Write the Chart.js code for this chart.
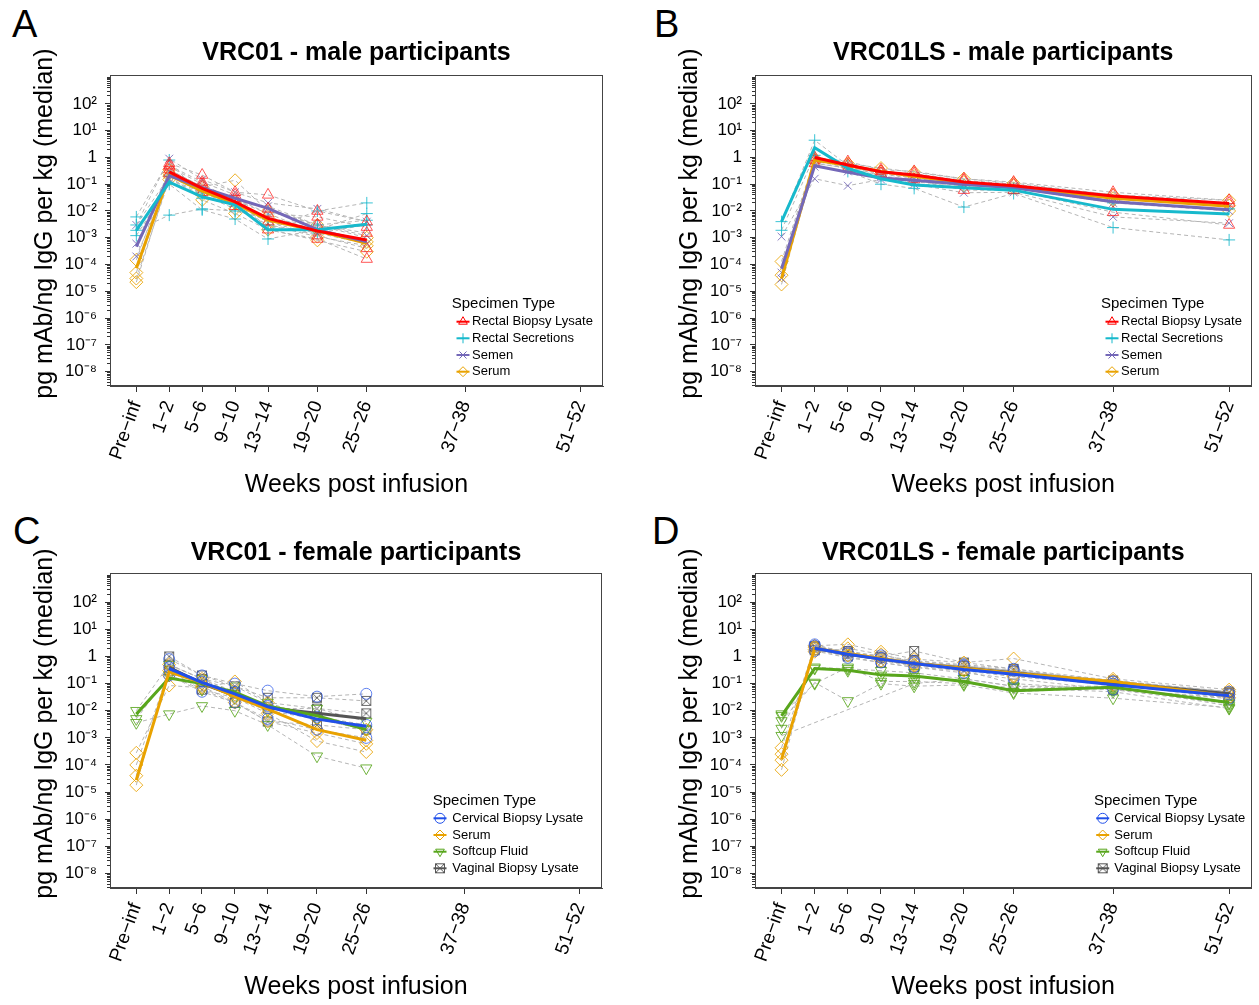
<!DOCTYPE html>
<html>
<head>
<meta charset="utf-8">
<script src="https://cdn.jsdelivr.net/npm/chart.js@4.4.1/dist/chart.umd.min.js"></script>
<style>
  body { margin: 0; background: #fff; width: 1259px; height: 1005px; position: relative; overflow: hidden;
         font-family: "Liberation Sans", Arial, sans-serif; }
  canvas { position: absolute; }
  .tag { position: absolute; font-size: 38px; line-height: 38px; color: #000; }
</style>
</head>
<body>
<div class="tag" style="left:12px;top:5px">A</div>
<div class="tag" style="left:654px;top:5px">B</div>
<div class="tag" style="left:13px;top:512px">C</div>
<div class="tag" style="left:652px;top:512px">D</div>
<canvas id="cA" width="630" height="500" style="left:0;top:0"></canvas>
<canvas id="cB" width="614" height="500" style="left:645px;top:0"></canvas>
<canvas id="cC" width="630" height="505" style="left:0;top:500px"></canvas>
<canvas id="cD" width="614" height="505" style="left:645px;top:500px"></canvas>
<script>
// x positions (weeks) and their labels
const weekPos = [-3, 1, 5, 9, 13, 19, 25, 37, 51];
const weekLabels = ['Pre\u2212inf', '1\u22122', '5\u22126', '9\u221210', '13\u221214', '19\u221220', '25\u221226', '37\u221238', '51\u221252'];
const decadeTicks = [1e-8, 1e-7, 1e-6, 1e-5, 1e-4, 1e-3, 1e-2, 1e-1, 1, 1e1, 1e2];
const minorSteps = [2, 3, 4, 5, 6, 7, 8, 9];

// Panel A - VRC01 male (medians, then individual participants)
const aRectalBiopsyMed = [null, 0.29, 0.07, 0.022, 0.0053, 0.0018, 0.00083];
const aRectalSecMed    = [0.0019, 0.12, 0.034, 0.017, 0.002, 0.002, 0.0032];
const aSemenMed        = [0.00047, 0.21, 0.074, 0.03, 0.0125, 0.002, 0.0007];
const aSerumMed        = [0.000072, 0.22, 0.055, 0.019, 0.0046, 0.0018, 0.00062];
const aRectalBiopsyInd = [
  [null, 0.6, 0.22, 0.05, 0.04, 0.01, 0.004],
  [null, 0.35, 0.08, 0.03, 0.012, 0.003, 0.0015],
  [null, 0.25, 0.05, 0.015, 0.004, 0.0012, 0.0004],
  [null, 0.5, 0.12, 0.04, 0.002, 0.0009, 0.00016],
  [null, 0.45, 0.1, 0.025, 0.008, 0.006, 0.0025]
];
const aRectalSecInd = [
  [0.006, 0.8, 0.03, 0.02, 0.002, 0.01, 0.02],
  [0.0012, 0.1, 0.011, 0.005, 0.0009, 0.002, 0.008],
  [0.003, 0.2, 0.05, 0.015, 0.003, 0.0015, 0.003],
  [0.0019, 0.007, 0.012, 0.01, 0.005, 0.003, 0.0045]
];
const aSemenInd = [
  [0.003, 0.9, 0.15, 0.05, 0.02, 0.012, 0.004],
  [0.0002, 0.15, 0.05, 0.03, 0.008, 0.0015, 0.0006],
  [0.0006, 0.3, 0.08, 0.02, 0.015, 0.003, 0.0012]
];
const aSerumInd = [
  [0.00015, 0.35, 0.08, 0.14, 0.01, 0.003, 0.001],
  [0.000022, 0.2, 0.026, 0.008, 0.002, 0.0008, 0.0003],
  [0.00005, 0.25, 0.06, 0.02, 0.006, 0.002, 0.0007],
  [0.00003, 0.15, 0.04, 0.012, 0.003, 0.0011, 0.0005]
];

// Panel B - VRC01LS male
const bRectalBiopsyMed = [null, 1.0, 0.52, 0.29, 0.22, 0.12, 0.088, 0.036, 0.019];
const bRectalSecMed    = [0.004, 2.3, 0.39, 0.16, 0.093, 0.074, 0.06, 0.0115, 0.0077];
const bSemenMed        = [0.00007, 0.49, 0.28, 0.17, 0.14, 0.1, 0.074, 0.022, 0.011];
const bSerumMed        = [0.00003, 0.8, 0.5, 0.3, 0.2, 0.11, 0.08, 0.03, 0.015];
const bRectalBiopsyInd = [
  [null, 1.0, 0.7, 0.35, 0.3, 0.16, 0.12, 0.05, 0.025],
  [null, 0.6, 0.4, 0.25, 0.15, 0.06, 0.06, 0.009, 0.003],
  [null, 0.8, 0.55, 0.3, 0.25, 0.14, 0.1, 0.04, 0.02]
];
const bRectalSecInd = [
  [0.004, 4.4, 0.5, 0.2, 0.1, 0.09, 0.07, 0.02, 0.012],
  [0.0019, 1.2, 0.3, 0.1, 0.07, 0.014, 0.045, 0.0024, 0.00083]
];
const bSemenInd = [
  [0.0011, 0.16, 0.088, 0.15, 0.1, 0.048, 0.05, 0.006, 0.0035],
  [0.00005, 0.6, 0.4, 0.2, 0.15, 0.1, 0.08, 0.03, 0.015],
  [0.00003, 0.45, 0.3, 0.18, 0.12, 0.09, 0.07, 0.02, 0.01]
];
const bSerumInd = [
  [0.00013, 0.9, 0.6, 0.4, 0.28, 0.16, 0.11, 0.04, 0.025],
  [0.000018, 0.7, 0.45, 0.25, 0.17, 0.09, 0.07, 0.025, 0.01],
  [0.00004, 0.8, 0.5, 0.3, 0.2, 0.12, 0.09, 0.03, 0.016]
];

// Panel C - VRC01 female
const cCervicalMed = [null, 0.36, 0.11, 0.042, 0.014, 0.0049, 0.0027];
const cSerumMed    = [0.000028, 0.27, 0.11, 0.033, 0.0115, 0.002, 0.00082];
const cSoftcupMed  = [0.0075, 0.16, 0.1, 0.048, 0.015, 0.0065, 0.002];
const cVaginalMed  = [null, 0.4, 0.1, 0.036, 0.013, 0.0081, 0.0051];
const cCervicalInd = [
  [null, 0.8, 0.2, 0.1, 0.055, 0.033, 0.042],
  [null, 0.2, 0.05, 0.02, 0.005, 0.002, 0.001],
  [null, 0.4, 0.12, 0.05, 0.015, 0.006, 0.003]
];
const cSerumInd = [
  [0.00028, 0.085, 0.07, 0.12, 0.02, 0.005, 0.002],
  [0.0001, 0.3, 0.1, 0.03, 0.008, 0.00076, 0.0003],
  [0.000018, 0.5, 0.15, 0.04, 0.012, 0.002, 0.0008],
  [0.00004, 0.2, 0.08, 0.02, 0.004, 0.0015, 0.0006]
];
const cSoftcupInd = [
  [0.0036, 0.0075, 0.015, 0.01, 0.003, 0.00021, 0.000076],
  [0.01, 0.5, 0.15, 0.08, 0.02, 0.012, 0.004],
  [0.005, 0.2, 0.06, 0.03, 0.01, 0.005, 0.002]
];
const cVaginalInd = [
  [null, 1.0, 0.2, 0.08, 0.03, 0.03, 0.023],
  [null, 0.3, 0.06, 0.02, 0.004, 0.003, 0.002],
  [null, 0.5, 0.15, 0.05, 0.012, 0.012, 0.008]
];

// Panel D - VRC01LS female
const dCervicalMed = [null, 2.0, 1.2, 0.8, 0.55, 0.33, 0.22, 0.09, 0.036];
const dSerumMed    = [0.00016, 2.0, 1.3, 0.85, 0.55, 0.37, 0.24, 0.12, 0.035];
const dSoftcupMed  = [0.0065, 0.36, 0.31, 0.21, 0.19, 0.12, 0.055, 0.074, 0.02];
const dVaginalMed  = [null, 2.0, 1.2, 0.8, 0.55, 0.38, 0.25, 0.11, 0.042];
const dCervicalInd = [
  [null, 2.5, 1.5, 0.9, 0.6, 0.45, 0.3, 0.12, 0.05],
  [null, 1.6, 0.9, 0.6, 0.4, 0.25, 0.15, 0.06, 0.028],
  [null, 2.8, 1.3, 1.1, 0.7, 0.5, 0.35, 0.1, 0.04]
];
const dSerumInd = [
  [0.00043, 2.5, 2.8, 1.5, 0.8, 0.6, 0.84, 0.15, 0.06],
  [0.00015, 1.8, 1.1, 0.9, 0.5, 0.35, 0.2, 0.1, 0.04],
  [0.000066, 2.2, 1.4, 0.7, 0.45, 0.3, 0.18, 0.09, 0.03],
  [0.00025, 1.5, 2.0, 1.2, 0.6, 0.45, 0.3, 0.13, 0.05]
];
const dSoftcupInd = [
  [0.0065, 0.36, 0.3, 0.2, 0.18, 0.12, 0.05, 0.07, 0.02],
  [0.0042, 0.11, 0.023, 0.1, 0.08, 0.09, 0.045, 0.029, 0.013],
  [0.0012, null, null, null, 0.1, 0.15, 0.08, 0.06, 0.018],
  [0.0022, 0.4, 0.35, 0.3, 0.25, 0.15, 0.08, 0.08, 0.015],
  [0.0075, 0.1, 0.4, 0.12, 0.12, 0.1, 0.07, 0.05, 0.012]
];
const dVaginalInd = [
  [null, 2.2, 1.6, 1.0, 1.6, 0.6, 0.35, 0.13, 0.05],
  [null, 1.7, 1.0, 0.6, 0.4, 0.3, 0.1, 0.06, 0.03],
  [null, 2.4, 1.4, 0.9, 0.7, 0.45, 0.3, 0.09, 0.045]
];

const yMin = 2.9e-9, yMax = 1200;
const xMin = -6.2, xMax = 53.7;
const FONT = '"Liberation Sans", Arial, sans-serif';
Chart.defaults.font.family = FONT;
Chart.defaults.color = '#000';

function boxCross(color) {
  const c = document.createElement('canvas');
  c.width = 12; c.height = 12;
  const g = c.getContext('2d');
  g.strokeStyle = color; g.lineWidth = 1;
  g.strokeRect(1.5, 1.5, 9, 9);
  g.beginPath();
  g.moveTo(1.5, 1.5); g.lineTo(10.5, 10.5);
  g.moveTo(10.5, 1.5); g.lineTo(1.5, 10.5);
  g.stroke();
  return c;
}

const SPEC = {
  rbl:   { label: 'Rectal Biopsy Lysate', color: '#ff0000', light: 'rgba(255,30,30,0.75)', style: 'triangle', r: 6.5 },
  rs:    { label: 'Rectal Secretions', color: '#17b9cc', light: 'rgba(23,185,204,0.85)', style: 'cross', r: 6 },
  semen: { label: 'Semen', color: '#7468b8', light: 'rgba(116,104,184,0.85)', style: 'crossRot', r: 5.5 },
  serum: { label: 'Serum', color: '#e9a200', light: 'rgba(233,162,0,0.85)', style: 'rectRot', r: 6.5 },
  cbl:   { label: 'Cervical Biopsy Lysate', color: '#2150ea', light: 'rgba(33,80,234,0.7)', style: 'circle', r: 5.5 },
  soft:  { label: 'Softcup Fluid', color: '#58a61c', light: 'rgba(88,166,28,0.85)', style: 'triangle', rot: 180, r: 6.5 },
  vbl:   { label: 'Vaginal Biopsy Lysate', color: '#555555', light: 'rgba(85,85,85,0.8)', style: boxCross('rgba(85,85,85,0.85)'), r: 6 }
};
SPEC.vbl.legendStyle = boxCross('#555555');

const SUP = { '-': '\u207B', '0': '\u2070', '1': '\u00B9', '2': '\u00B2', '3': '\u00B3', '4': '\u2074',
              '5': '\u2075', '6': '\u2076', '7': '\u2077', '8': '\u2078', '9': '\u2079' };
function decadeLabel(v) {
  const e = Math.round(Math.log10(v));
  if (e === 0) return '1';
  return '10' + String(e).split('').map(c => SUP[c]).join('');
}
const minorTicks = [];
[1e-9].concat(decadeTicks).forEach(d => minorSteps.forEach(k => {
  const v = k * d;
  if (v > yMin && v < yMax) minorTicks.push(v);
}));
minorTicks.push(1000);

function pts(vals) {
  return vals.map((v, i) => ({ x: weekPos[i], y: v }));
}
function indSets(rows, sp) {
  return rows.map(r => ({
    data: pts(r),
    borderColor: '#b5b5b5', borderWidth: 1, borderDash: [4, 3],
    pointStyle: sp.style, pointRotation: sp.rot || 0, pointRadius: sp.r,
    pointBorderColor: sp.light, pointBackgroundColor: 'rgba(0,0,0,0)', pointBorderWidth: 1,
    spanGaps: true, order: 2
  }));
}
function medSet(vals, sp) {
  return { data: pts(vals), borderColor: sp.color, borderWidth: 3, pointRadius: 0, order: 1 };
}

const framePlugin = {
  id: 'frame',
  afterDraw(chart) {
    const a = chart.chartArea, ctx = chart.ctx;
    ctx.save();
    ctx.strokeStyle = '#444'; ctx.lineWidth = 1;
    ctx.strokeRect(Math.round(a.left) + 0.5, Math.round(a.top) + 0.5,
                   Math.round(a.right - a.left) - 1, Math.round(a.bottom - a.top) - 1);
    ctx.restore();
  }
};

function legendPlugin(lg, items) {
  return {
    id: 'specLegend',
    afterDraw(chart) {
      const ctx = chart.ctx;
      ctx.save();
      ctx.textBaseline = 'middle'; ctx.textAlign = 'left';
      ctx.fillStyle = '#000';
      ctx.font = '15px ' + FONT;
      ctx.fillText('Specimen Type', lg.titleX, lg.titleY);
      ctx.font = '13px ' + FONT;
      items.forEach((sp, i) => {
        const y = lg.rowY[i];
        ctx.strokeStyle = sp.color; ctx.lineWidth = 2;
        ctx.beginPath(); ctx.moveTo(lg.markX - 6.5, y); ctx.lineTo(lg.markX + 6.5, y); ctx.stroke();
        ctx.lineWidth = 1; ctx.fillStyle = 'rgba(0,0,0,0)';
        Chart.helpers.drawPoint(ctx, { pointStyle: sp.legendStyle || sp.style, radius: 5, rotation: sp.rot || 0, borderWidth: 1 }, lg.markX, y);
        ctx.fillStyle = '#000';
        ctx.fillText(sp.label, lg.textX, y);
      });
      ctx.restore();
    }
  };
}

function makeChart(p) {
  const canvas = document.getElementById(p.id);
  new Chart(canvas, {
    type: 'line',
    data: { datasets: p.sets },
    plugins: [framePlugin, legendPlugin(p.legend, p.items)],
    options: {
      responsive: false, animation: false, devicePixelRatio: 1, events: [],
      layout: { padding: { left: 30, right: canvas.width - p.right, top: 0, bottom: 0 } },
      plugins: {
        legend: { display: false }, tooltip: { enabled: false },
        title: { display: true, text: p.title, fullSize: false, color: '#000',
                 font: { size: 25, weight: 'bold' },
                 padding: { top: 38.5, bottom: p.areaTop - 38.5 - 30 } }
      },
      scales: {
        x: {
          type: 'linear', min: xMin, max: xMax,
          afterBuildTicks: s => { s.ticks = weekPos.map(v => ({ value: v })); },
          ticks: { autoSkip: false, minRotation: 70, maxRotation: 70, font: { size: 19 }, color: '#000', padding: 6,
                   callback: v => weekLabels[weekPos.indexOf(v)] },
          grid: { drawOnChartArea: false, tickLength: 6, color: '#333' },
          border: { color: '#444' },
          title: { display: true, text: 'Weeks post infusion', font: { size: 25 }, color: '#000',
                   padding: { top: 0, bottom: p.xTitlePad } },
          afterFit: s => { s.height = canvas.height - p.areaBottom; }
        },
        y: {
          type: 'logarithmic', position: 'left', min: yMin, max: yMax, weight: 1,
          afterBuildTicks: s => { s.ticks = decadeTicks.map(v => ({ value: v })); },
          ticks: { autoSkip: false, font: { size: 17 }, color: '#000', padding: 8, callback: v => decadeLabel(v) },
          grid: { drawOnChartArea: false, tickLength: 5, color: '#333' },
          border: { color: '#444' },
          title: { display: true, text: '  pg mAb/ng IgG per kg (median)', font: { size: 25 }, color: '#000', padding: 0 },
          afterFit: s => { s.width = 80; }
        },
        yMinor: {
          type: 'logarithmic', position: 'left', min: yMin, max: yMax, weight: -1,
          afterBuildTicks: s => { s.ticks = minorTicks.map(v => ({ value: v })); },
          ticks: { display: false },
          grid: { drawOnChartArea: false, tickLength: 3, color: '#333' },
          border: { display: false },
          afterFit: s => { s.width = 0; }
        }
      }
    }
  });
}

const maleItems = [SPEC.rbl, SPEC.rs, SPEC.semen, SPEC.serum];
const femaleItems = [SPEC.cbl, SPEC.serum, SPEC.soft, SPEC.vbl];

makeChart({
  id: 'cA', title: 'VRC01 - male participants', right: 603, areaTop: 75, areaBottom: 386, xTitlePad: 0,
  items: maleItems,
  legend: { titleX: 451.7, titleY: 303.5, markX: 463, textX: 472, rowY: [321.7, 338.3, 355, 371.7] },
  sets: [].concat(
    medSet(aRectalBiopsyMed, SPEC.rbl), medSet(aRectalSecMed, SPEC.rs),
    medSet(aSemenMed, SPEC.semen), medSet(aSerumMed, SPEC.serum),
    indSets(aRectalBiopsyInd, SPEC.rbl), indSets(aRectalSecInd, SPEC.rs),
    indSets(aSemenInd, SPEC.semen), indSets(aSerumInd, SPEC.serum))
});
makeChart({
  id: 'cB', title: 'VRC01LS - male participants', right: 608, areaTop: 75, areaBottom: 386, xTitlePad: 0,
  items: maleItems,
  legend: { titleX: 456, titleY: 303.5, markX: 467, textX: 476, rowY: [321.7, 338.3, 355, 371.7] },
  sets: [].concat(
    medSet(bRectalBiopsyMed, SPEC.rbl), medSet(bRectalSecMed, SPEC.rs),
    medSet(bSemenMed, SPEC.semen), medSet(bSerumMed, SPEC.serum),
    indSets(bRectalBiopsyInd, SPEC.rbl), indSets(bRectalSecInd, SPEC.rs),
    indSets(bSemenInd, SPEC.semen), indSets(bSerumInd, SPEC.serum))
});
makeChart({
  id: 'cC', title: 'VRC01 - female participants', right: 602, areaTop: 73, areaBottom: 388, xTitlePad: 3,
  items: femaleItems,
  legend: { titleX: 432.7, titleY: 300.5, markX: 440, textX: 452.3, rowY: [318.3, 335, 351.7, 368.3] },
  sets: [].concat(
    medSet(cCervicalMed, SPEC.cbl), medSet(cSerumMed, SPEC.serum),
    medSet(cSoftcupMed, SPEC.soft), medSet(cVaginalMed, SPEC.vbl),
    indSets(cCervicalInd, SPEC.cbl), indSets(cSerumInd, SPEC.serum),
    indSets(cSoftcupInd, SPEC.soft), indSets(cVaginalInd, SPEC.vbl))
});
makeChart({
  id: 'cD', title: 'VRC01LS - female participants', right: 608, areaTop: 73, areaBottom: 388, xTitlePad: 3,
  items: femaleItems,
  legend: { titleX: 449, titleY: 300.5, markX: 457.7, textX: 469.3, rowY: [318.3, 335, 351.7, 368.3] },
  sets: [].concat(
    medSet(dCervicalMed, SPEC.cbl), medSet(dSerumMed, SPEC.serum),
    medSet(dSoftcupMed, SPEC.soft), medSet(dVaginalMed, SPEC.vbl),
    indSets(dCervicalInd, SPEC.cbl), indSets(dSerumInd, SPEC.serum),
    indSets(dSoftcupInd, SPEC.soft), indSets(dVaginalInd, SPEC.vbl))
});
</script>
</body>
</html>
